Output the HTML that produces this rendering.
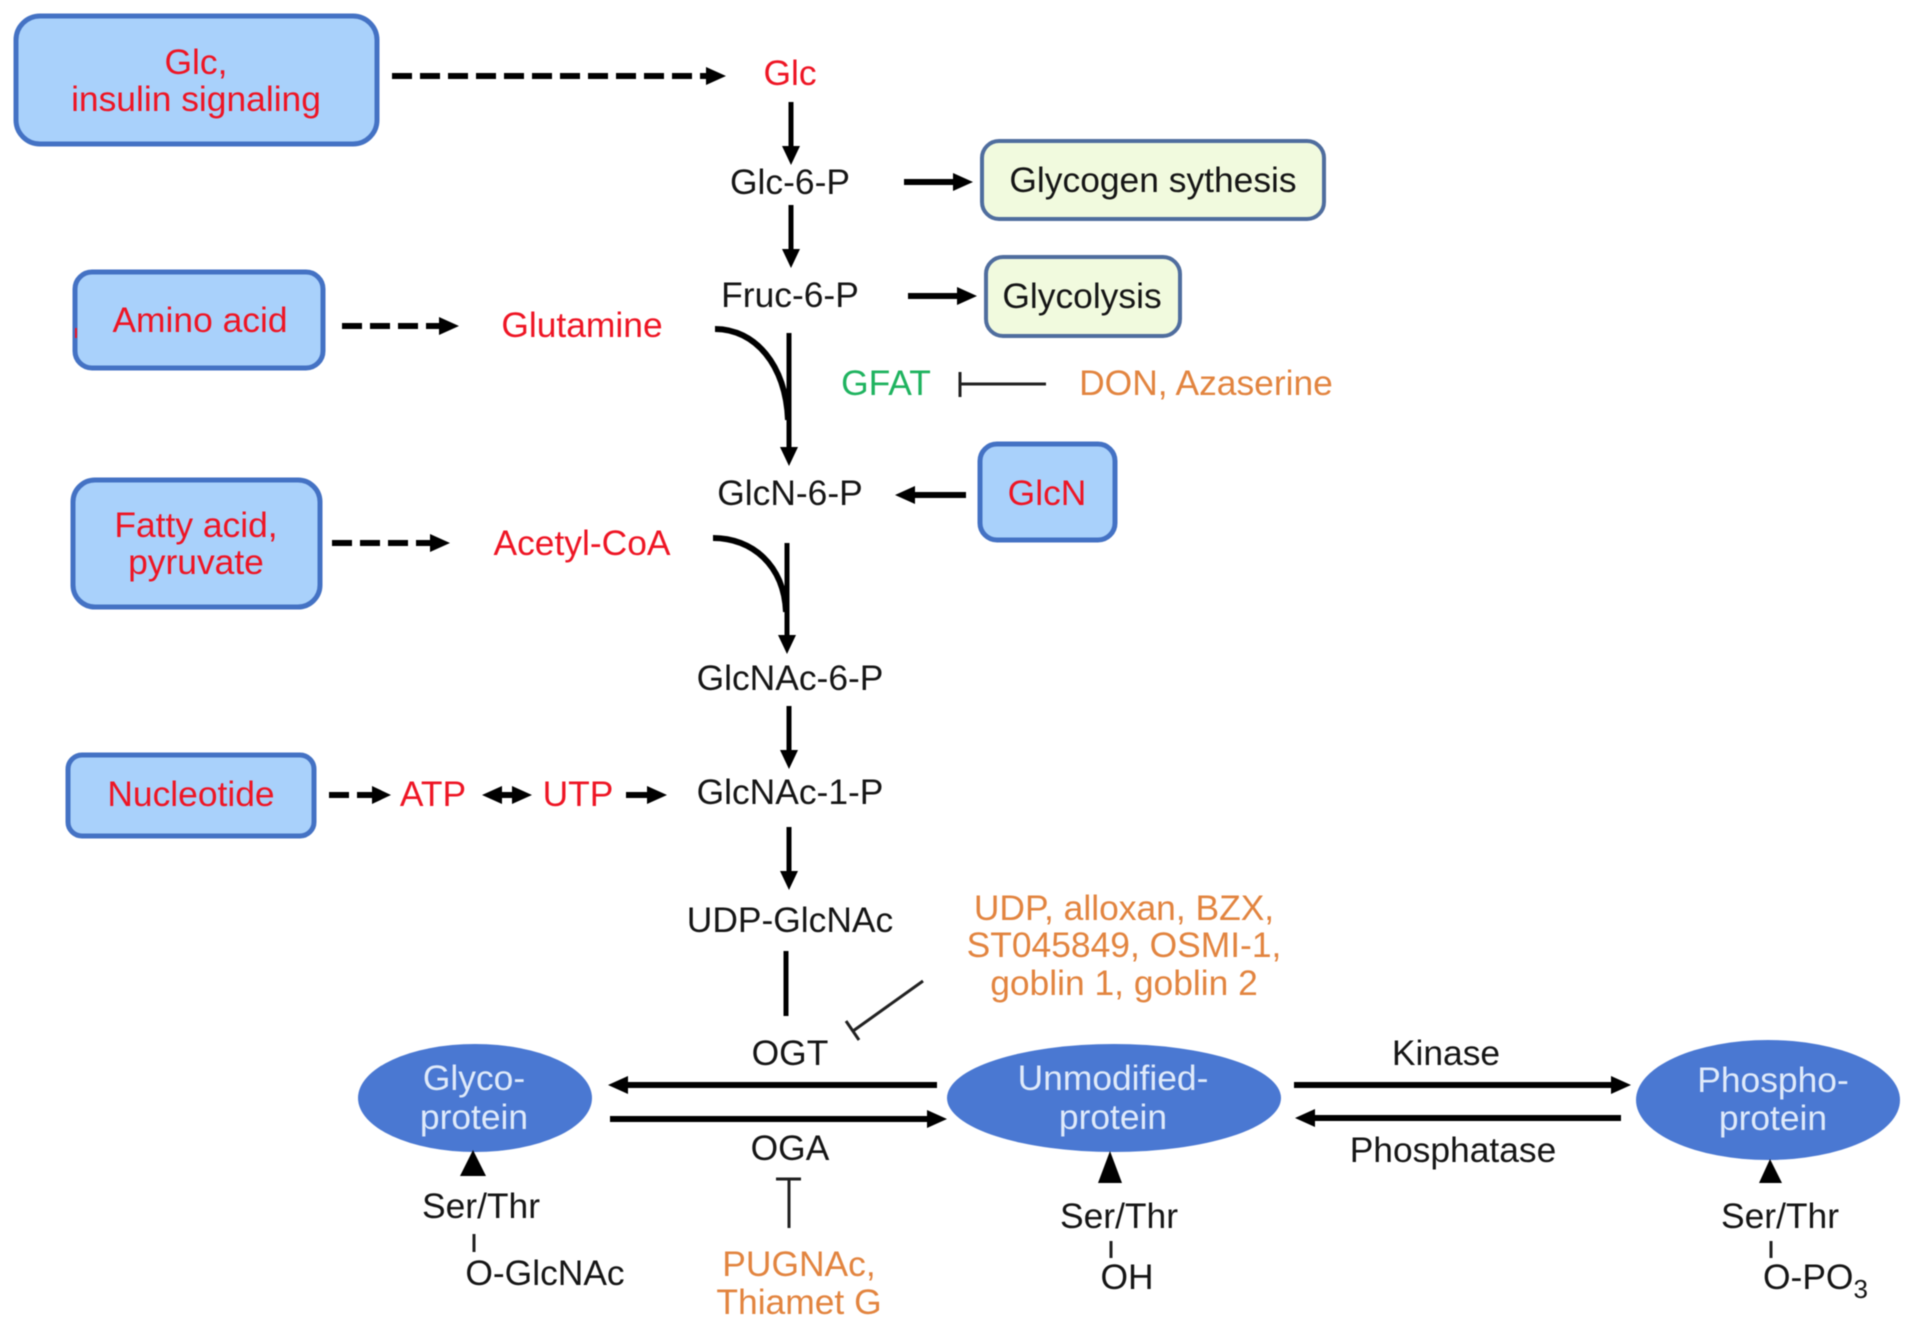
<!DOCTYPE html>
<html>
<head>
<meta charset="utf-8">
<style>
html,body{margin:0;padding:0;background:#fff}
svg{display:block;filter:blur(0.6px)}
text{font-family:"Liberation Sans",Arial,sans-serif;font-size:35.4px;text-anchor:middle}
.k{fill:#151515}.r{fill:#ee1524}.o{fill:#e2843f}.g{fill:#1fb35f}.w{fill:#dfeafa}
.b{fill:#a9d1fb;stroke:#4472c4;stroke-width:5}
.y{fill:#f1fade;stroke:#4f6d9e;stroke-width:4}
.e{fill:#4a78d2}
.l{fill:none;stroke:#000;stroke-width:5}
.d{fill:none;stroke:#000;stroke-width:6;stroke-dasharray:20 8}
.h{fill:none;stroke:#000;stroke-width:6}
.t{fill:none;stroke:#222;stroke-width:3}
</style>
</head>
<body>
<svg width="1913" height="1327" viewBox="0 0 1913 1327" xmlns="http://www.w3.org/2000/svg">
<defs>
<marker id="a" markerUnits="userSpaceOnUse" markerWidth="24" markerHeight="24" refX="10" refY="9" orient="auto"><path d="M0,0 L20,9 L0,18 Z" fill="#000"/></marker>
<marker id="as" markerUnits="userSpaceOnUse" markerWidth="24" markerHeight="24" refX="9" refY="9" orient="auto"><path d="M0,0 L19,9 L0,18 Z" fill="#000"/></marker>
<marker id="ar" markerUnits="userSpaceOnUse" markerWidth="24" markerHeight="24" refX="10" refY="9" orient="auto-start-reverse"><path d="M0,0 L20,9 L0,18 Z" fill="#000"/></marker>
</defs>

<!-- Source boxes -->
<rect class="b" x="16" y="16" width="361" height="128" rx="24"/>
<rect class="b" x="75" y="272" width="248" height="96" rx="17"/>
<rect class="b" x="73" y="480" width="247" height="127" rx="22"/>
<rect class="b" x="68" y="755" width="246" height="81" rx="14"/>
<rect class="b" x="980" y="444" width="135" height="96" rx="17"/>
<path d="M76 328v10" stroke="#ee1524" stroke-width="2" fill="none"/>

<!-- Output boxes -->
<rect class="y" x="982" y="141" width="342" height="78" rx="17"/>
<rect class="y" x="986" y="257" width="194" height="79" rx="17"/>

<!-- Ellipses -->
<ellipse class="e" cx="475" cy="1098" rx="117" ry="54"/>
<ellipse class="e" cx="1114" cy="1098" rx="167" ry="54"/>
<ellipse class="e" cx="1768" cy="1100" rx="132" ry="60"/>

<!-- Dashed arrows -->
<path class="d" d="M392 76H716" marker-end="url(#a)"/>
<path class="d" d="M342 326H449" marker-end="url(#a)"/>
<path class="d" d="M332 543H440" marker-end="url(#a)"/>
<path class="d" d="M329 795H381" marker-end="url(#as)"/>

<!-- Vertical main path -->
<path class="l" d="M791 102V155" marker-end="url(#as)"/>
<path class="l" d="M791 205V258" marker-end="url(#as)"/>
<path class="l" d="M789 333V456" marker-end="url(#as)"/>
<path class="l" d="M787 543V644" marker-end="url(#as)"/>
<path class="l" d="M789 706V759" marker-end="url(#as)"/>
<path class="l" d="M789 827V880" marker-end="url(#as)"/>
<path class="l" d="M786 951V1016"/>

<!-- Curved joins -->
<path class="h" d="M715 329C755 329 786 365 788 420"/>
<path class="h" d="M713 538C752 538 784 565 786 612"/>

<!-- Horizontal arrows -->
<path class="h" d="M904 182H963" marker-end="url(#a)"/>
<path class="h" d="M908 296H967" marker-end="url(#a)"/>
<path class="h" d="M966 495H905" marker-end="url(#a)"/>
<path class="h" d="M492 795H522" marker-start="url(#ar)" marker-end="url(#ar)"/>
<path class="h" d="M626 795H657" marker-end="url(#a)"/>
<path class="h" d="M937 1085H618" marker-end="url(#a)"/>
<path class="h" d="M610 1119H937" marker-end="url(#a)"/>
<path class="h" d="M1294 1085H1621" marker-end="url(#a)"/>
<path class="h" d="M1621 1118H1305" marker-end="url(#a)"/>

<!-- Inhibition -->
<path class="t" d="M1046 384H960M960 372V397"/>
<path class="t" d="M923 981L853 1031M846 1021L859 1040"/>
<path class="t" d="M789 1228V1179M776 1179H801"/>

<!-- Triangles -->
<path d="M473 1150L460 1176H486Z" fill="#000"/>
<path d="M1110 1151L1098 1183H1122Z" fill="#000"/>
<path d="M1770 1159L1759 1183H1782Z" fill="#000"/>

<!-- Ticks -->
<path class="t" d="M474 1234V1252M1111 1241V1258M1771 1241V1258" stroke-width="2.5"/>

<!-- Red labels -->
<text class="r" x="196" y="74">Glc,</text>
<text class="r" x="196" y="111">insulin signaling</text>
<text class="r" x="790" y="85">Glc</text>
<text class="r" x="200" y="332">Amino acid</text>
<text class="r" x="582" y="337">Glutamine</text>
<text class="r" x="196" y="537">Fatty acid,</text>
<text class="r" x="196" y="574">pyruvate</text>
<text class="r" x="582" y="555">Acetyl-CoA</text>
<text class="r" x="191" y="806">Nucleotide</text>
<text class="r" x="433" y="806">ATP</text>
<text class="r" x="578" y="806">UTP</text>
<text class="r" x="1047" y="505">GlcN</text>

<!-- Black labels -->
<text class="k" x="790" y="194">Glc-6-P</text>
<text class="k" x="790" y="307">Fruc-6-P</text>
<text class="k" x="790" y="505">GlcN-6-P</text>
<text class="k" x="790" y="690">GlcNAc-6-P</text>
<text class="k" x="790" y="804">GlcNAc-1-P</text>
<text class="k" x="790" y="932">UDP-GlcNAc</text>
<text class="k" x="790" y="1065">OGT</text>
<text class="k" x="790" y="1160">OGA</text>
<text class="k" x="1153" y="192">Glycogen sythesis</text>
<text class="k" x="1082" y="308">Glycolysis</text>
<text class="k" x="1446" y="1065">Kinase</text>
<text class="k" x="1453" y="1162">Phosphatase</text>
<text class="k" x="481" y="1218">Ser/Thr</text>
<text class="k" x="545" y="1285">O-GlcNAc</text>
<text class="k" x="1119" y="1228">Ser/Thr</text>
<text class="k" x="1127" y="1289">OH</text>
<text class="k" x="1780" y="1228">Ser/Thr</text>
<text class="k" x="1763" y="1289" style="text-anchor:start">O-PO<tspan dy="9" style="font-size:26px">3</tspan></text>

<!-- Colored labels -->
<text class="g" x="886" y="395">GFAT</text>
<text class="o" x="1206" y="395">DON, Azaserine</text>
<text class="o" x="1124" y="920">UDP, alloxan, BZX,</text>
<text class="o" x="1124" y="957">ST045849, OSMI-1,</text>
<text class="o" x="1124" y="995">goblin 1, goblin 2</text>
<text class="o" x="799" y="1276">PUGNAc,</text>
<text class="o" x="799" y="1314">Thiamet G</text>

<!-- Ellipse labels -->
<text class="w" x="474" y="1090">Glyco-</text>
<text class="w" x="474" y="1129">protein</text>
<text class="w" x="1113" y="1090">Unmodified-</text>
<text class="w" x="1113" y="1129">protein</text>
<text class="w" x="1773" y="1092">Phospho-</text>
<text class="w" x="1773" y="1130">protein</text>
</svg>
</body>
</html>
